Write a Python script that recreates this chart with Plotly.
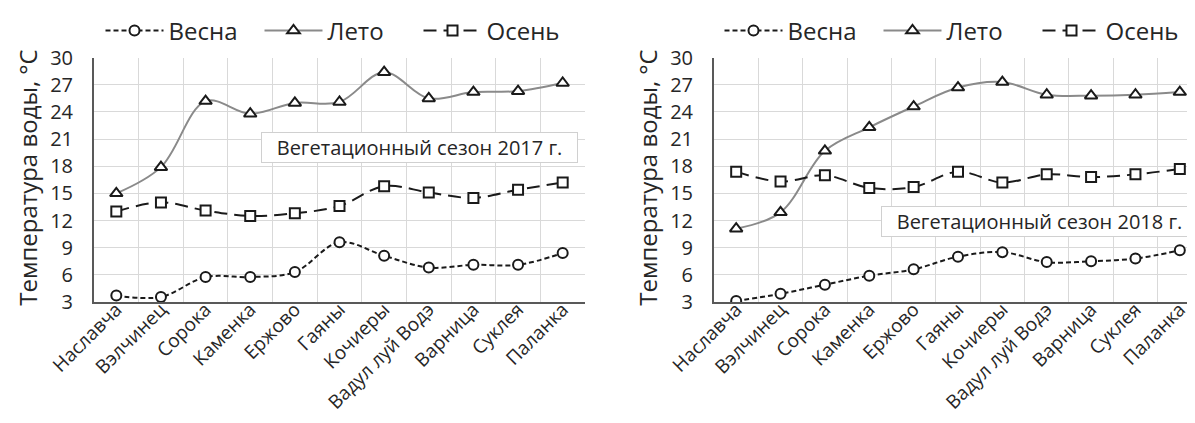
import plotly.graph_objects as go

sites = ["Наславча", "Вэлчинец", "Сорока", "Каменка", "Ержово", "Гаяны", "Кочиеры",
         "Вадул луй Водэ", "Варница", "Суклея", "Паланка"]

spring_2017 = [3.7, 3.55, 5.75, 5.75, 6.3, 9.6, 8.1, 6.8, 7.1, 7.1, 8.4]
summer_2017 = [15.0, 17.9, 25.2, 23.8, 25.0, 25.1, 28.4, 25.5, 26.2, 26.3, 27.2]
autumn_2017 = [13.0, 14.0, 13.1, 12.5, 12.8, 13.6, 15.8, 15.1, 14.5, 15.4, 16.2]

spring_2018 = [3.1, 3.9, 4.9, 5.9, 6.6, 8.0, 8.5, 7.4, 7.5, 7.8, 8.7]
summer_2018 = [11.1, 12.9, 19.7, 22.3, 24.6, 26.7, 27.3, 25.9, 25.8, 25.9, 26.2]
autumn_2018 = [17.4, 16.3, 17.0, 15.6, 15.7, 17.4, 16.2, 17.1, 16.8, 17.1, 17.7]

season_names = ["Весна", "Лето", "Осень"]
y_ticks = [3, 6, 9, 12, 15, 18, 21, 24, 27, 30]
y_title = "Температура воды, °С"
box_labels = ["Вегетационный сезон 2017 г.", "Вегетационный сезон 2018 г."]

FONT = "Open Sans"
TXT = "#262626"
W, H = 1195, 423

fig = go.Figure()

styles = [
    dict(line=dict(color="#1a1a1a", width=2, dash="5px,3px", shape="spline"),
         marker=dict(symbol="circle", size=10, color="white", line=dict(color="#1a1a1a", width=2))),
    dict(line=dict(color="#8a8a8a", width=2, shape="spline"),
         marker=dict(symbol="triangle-up", size=11, color="white", line=dict(color="#1a1a1a", width=2))),
    dict(line=dict(color="#1a1a1a", width=2, dash="13px,7px", shape="spline"),
         marker=dict(symbol="square", size=10, color="white", line=dict(color="#1a1a1a", width=2))),
]

datasets = [
    ([spring_2017, summer_2017, autumn_2017], "x", "y", "legend"),
    ([spring_2018, summer_2018, autumn_2018], "x2", "y2", "legend2"),
]
for series, xa, ya, lg in datasets:
    for name, vals, st in zip(season_names, series, styles):
        fig.add_trace(go.Scatter(
            x=sites, y=vals, name=name, mode="lines+markers",
            xaxis=xa, yaxis=ya, legend=lg, **st))

ydom = [1 - 293 / H, 1 - 47 / H]
xdoms = [[86 / W, 577 / W], [706 / W, 1194 / W]]

common_x = dict(
    type="category", range=[-0.5, 10.5], tickson="boundaries",
    showgrid=True, gridcolor="#d9d9d9", gridwidth=1,
    showline=True, linecolor="#595959", linewidth=2,
    ticks="", tickangle=-45, tickfont=dict(family=FONT, size=19, color=TXT),
    ticklabelstandoff=-13, automargin=False, mirror=False, zeroline=False,
)
common_y = dict(
    range=[3, 30], tickvals=y_ticks, showgrid=True, gridcolor="#d9d9d9", gridwidth=1,
    showline=True, linecolor="#595959", linewidth=2, ticks="",
    tickfont=dict(family=FONT, size=20, color=TXT), ticklabelstandoff=15,
    automargin=False, zeroline=False, domain=ydom,
)

legend_common = dict(orientation="h", xanchor="center", yanchor="middle",
                     font=dict(family=FONT, size=24, color=TXT), itemwidth=58,
                     entrywidth=86, entrywidthmode="pixels",
                     bgcolor="rgba(0,0,0,0)")

fig.update_layout(
    width=W, height=H, margin=dict(l=0, r=0, t=0, b=0),
    paper_bgcolor="white", plot_bgcolor="white",
    font=dict(family=FONT, color=TXT),
    xaxis=dict(domain=xdoms[0], anchor="y", **common_x),
    xaxis2=dict(domain=xdoms[1], anchor="y2", **common_x),
    yaxis=dict(anchor="x", **common_y),
    yaxis2=dict(anchor="x2", **common_y),
    legend=dict(x=331 / W, y=1 - 20 / H, **legend_common),
    legend2=dict(x=950 / W, y=1 - 20 / H, **legend_common),
    showlegend=True,
)

# y-axis titles
for xpx in (20, 640):
    fig.add_annotation(xref="paper", yref="paper", x=xpx / W, y=1 - 168 / H,
                       text=y_title, textangle=-90, showarrow=False,
                       font=dict(family=FONT, size=24, color=TXT),
                       xanchor="center", yanchor="middle")

# season boxes
for (cx, cy), label in zip([(411.5, 137.5), (1031.5, 212)], box_labels):
    fig.add_annotation(xref="paper", yref="paper", x=cx / W, y=1 - cy / H,
                       text=label, showarrow=False, xanchor="center", yanchor="middle",
                       font=dict(family=FONT, size=20, color=TXT),
                       bgcolor="white", bordercolor="#d0d0d0", borderwidth=1,
                       borderpad=1, width=313, height=27)

fig.write_html("out.html")
